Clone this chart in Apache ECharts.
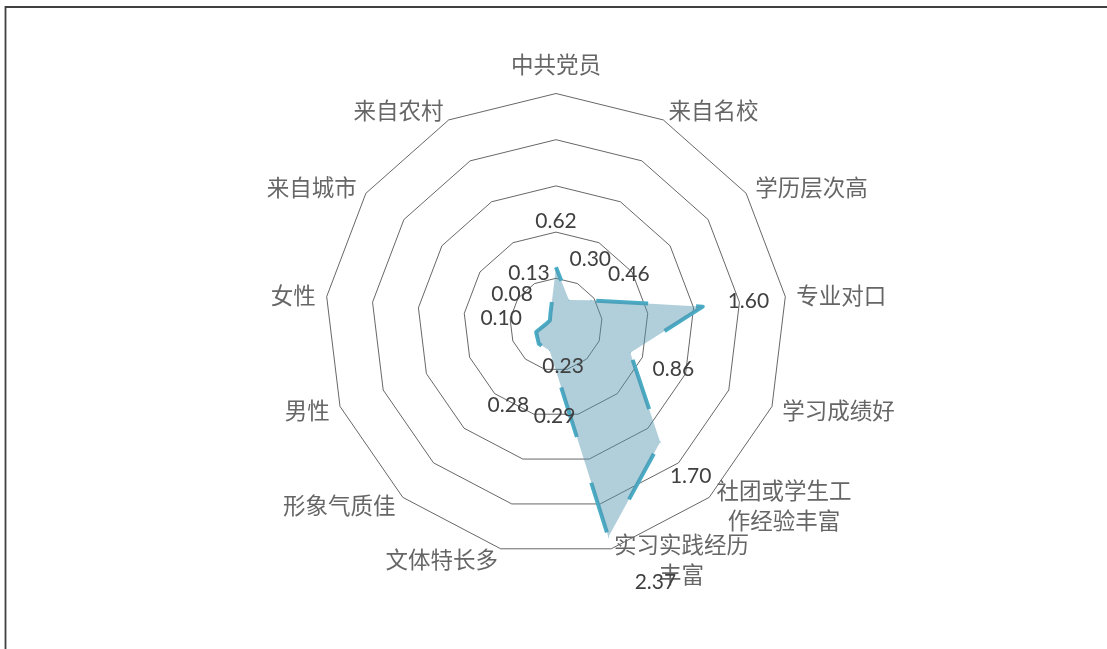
<!DOCTYPE html>
<html><head><meta charset="utf-8">
<script src="https://cdn.jsdelivr.net/npm/echarts@6/dist/echarts.min.js"></script>
<style>html,body{margin:0;padding:0;background:#fff}#c{width:1107px;height:649px}</style>
</head><body><div id="c"></div>
<script>
// clockwise from the top, as in the reference
const categories = ['中共党员','来自名校','学历层次高','专业对口','学习成绩好','社团或学生工\n作经验丰富','实习实践经历\n丰富','文体特长多','形象气质佳','男性','女性','来自城市','来自农村'];
const values = [0.62, 0.30, 0.46, 1.60, 0.86, 1.70, 2.37, 0.29, 0.28, 0.23, 0.10, 0.08, 0.13];
const axisMax = 2.5;
const ringCount = 5;

const CX = 556, CY = 324.5, R = 231;
const N = categories.length;
// ECharts lays indicators counter-clockwise; reorder so they run clockwise as in the reference
const order = [0].concat(categories.map((_, i) => i).slice(1).reverse());
const indicator = order.map(i => ({name: categories[i], max: axisMax}));
const seriesValues = order.map(i => values[i]);

const labelOut = 46;
const labelNudge = {6: [36, 0], 7: [16, 21], 8: [0, 27], 9: [70, 18]};
const FONT_CN = 'Noto Sans CJK SC';
const NAME_COLOR = '#666666';

const chart = echarts.init(document.getElementById('c'), null, {renderer: 'canvas'});
chart.setOption({
  animation: false,
  backgroundColor: '#ffffff',
  graphic: [{type: 'rect', silent: true, shape: {x: 5.5, y: 7, width: 1300, height: 800},
             style: {fill: 'none', stroke: '#404040', lineWidth: 1.8}}],
  radar: {
    center: [CX, CY], radius: R, startAngle: 90, splitNumber: ringCount, shape: 'polygon',
    indicator: indicator,
    nameGap: 11,
    axisName: {
      color: NAME_COLOR, fontSize: 22.5, fontFamily: FONT_CN,
      formatter: function (name) {
        if (name === categories[0]) return '{t|' + name + '}';
        return name.indexOf('\n') < 0 ? name : name.split('\n').map(l => '{c|' + l + '}').join('\n');
      },
      rich: {
        c: {width: 135, align: 'center', fontSize: 22.5, color: NAME_COLOR, fontFamily: FONT_CN, lineHeight: 30},
        t: {fontSize: 22.5, color: NAME_COLOR, fontFamily: FONT_CN, padding: [0, 0, 7, 0]}
      }
    },
    splitLine: {lineStyle: {color: '#404040', width: 0.8}},
    splitArea: {show: false},
    axisLine: {show: false},
    axisTick: {show: false},
    axisLabel: {show: false}
  },
  series: [{
    type: 'radar',
    symbol: 'circle', symbolSize: 1,
    itemStyle: {color: '#4BACC6'},
    lineStyle: {color: '#4BACC6', width: 4, type: [52, 48], dashOffset: 65},
    areaStyle: {color: '#4F94AE', opacity: 0.45},
    label: {
      show: true, fontFamily: 'Lato', fontSize: 21, color: '#404040',
      formatter: function (p) {
        const v = Array.isArray(p.value) ? p.value[p.dimensionIndex] : p.value;
        return Number(v).toFixed(2);
      }
    },
    labelLayout: function (p) {
      const sx = p.rect.x + p.rect.width / 2, sy = p.rect.y + p.rect.height / 2;
      let ang = Math.atan2(sx - CX, -(sy - CY));
      if (ang < 0) ang += 2 * Math.PI;
      const step = 2 * Math.PI / N;
      const idx = Math.round(ang / step) % N;
      const a = idx * step;
      const nd = labelNudge[idx] || [0, 0];
      return {x: sx + Math.sin(a) * labelOut + nd[0], y: sy - Math.cos(a) * labelOut + nd[1],
              align: 'center', verticalAlign: 'middle'};
    },
    data: [{value: seriesValues, name: '求职优势'}]
  }]
});
</script></body></html>
